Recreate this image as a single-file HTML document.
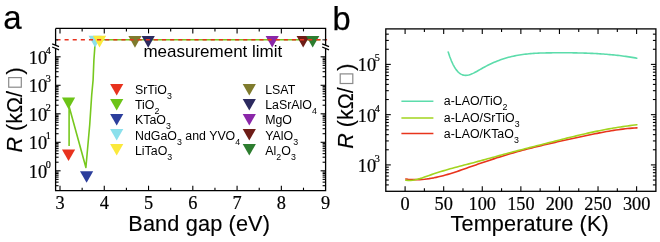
<!DOCTYPE html>
<html><head><meta charset="utf-8"><style>html,body{margin:0;padding:0;background:#fff;}svg{display:block;will-change:transform;}</style></head>
<body>
<svg width="660" height="242" viewBox="0 0 660 242">
<rect width="660" height="242" fill="#fff"/>
<polyline points="69.1,146 69.1,106.5 85.9,167.5 89.7,125 91.7,95 93.1,80 93.9,60 94.9,46.3 96,39.8 320.5,39.8" fill="none" stroke="#77c81e" stroke-width="1.6" stroke-linejoin="round"/>
<polygon points="61.95,149.50 75.15,149.50 68.55,161.10" fill="#e8321e"/>
<polygon points="61.95,97.60 75.15,97.60 68.55,109.20" fill="#6cc417"/>
<polygon points="80.00,171.20 93.20,171.20 86.60,182.80" fill="#2c3e9c"/>
<polygon points="88.52,35.80 101.72,35.80 95.12,47.40" fill="#8be0ec"/>
<polygon points="92.94,35.80 106.14,35.80 99.54,47.40" fill="#fbe93c"/>
<polygon points="128.36,36.10 141.56,36.10 134.96,47.70" fill="#7f7b2d"/>
<polygon points="141.64,36.10 154.84,36.10 148.24,47.70" fill="#2c2a5f"/>
<polygon points="265.60,36.00 278.80,36.00 272.20,47.60" fill="#8a26a8"/>
<polygon points="296.58,36.00 309.79,36.00 303.19,47.60" fill="#6e1d17"/>
<polygon points="306.10,36.00 319.30,36.00 312.70,47.60" fill="#2d7d2f"/>
<line x1="55.60" y1="39.8" x2="327.10" y2="39.8" stroke="#e8321e" stroke-width="1.6" stroke-dasharray="4.1 4.02" stroke-dashoffset="7.28"/>
<line x1="55.60" y1="39.80" x2="58.20" y2="39.80" stroke="#333" stroke-width="1.4" />
<line x1="325.60" y1="39.80" x2="322.40" y2="39.80" stroke="#555" stroke-width="1.4" />
<path d="M55.6,28.4 H325.6 V45.3 M325.6,48.4 V190.7 H55.6 V48.4 M55.6,45.3 V28.4" fill="none" stroke="#000" stroke-width="1.3"/>
<line x1="52.20" y1="43.90" x2="59.00" y2="46.70" stroke="#000" stroke-width="1.25" />
<line x1="52.20" y1="47.00" x2="59.00" y2="49.80" stroke="#000" stroke-width="1.25" />
<line x1="322.20" y1="43.90" x2="329.00" y2="46.70" stroke="#000" stroke-width="1.25" />
<line x1="322.20" y1="47.00" x2="329.00" y2="49.80" stroke="#000" stroke-width="1.25" />
<line x1="60.00" y1="190.70" x2="60.00" y2="185.70" stroke="#000" stroke-width="1.1" />
<line x1="60.00" y1="28.40" x2="60.00" y2="33.40" stroke="#000" stroke-width="1.1" />
<line x1="82.14" y1="190.70" x2="82.14" y2="187.70" stroke="#000" stroke-width="1.1" />
<line x1="82.14" y1="28.40" x2="82.14" y2="31.40" stroke="#000" stroke-width="1.1" />
<line x1="104.27" y1="190.70" x2="104.27" y2="185.70" stroke="#000" stroke-width="1.1" />
<line x1="104.27" y1="28.40" x2="104.27" y2="33.40" stroke="#000" stroke-width="1.1" />
<line x1="126.41" y1="190.70" x2="126.41" y2="187.70" stroke="#000" stroke-width="1.1" />
<line x1="126.41" y1="28.40" x2="126.41" y2="31.40" stroke="#000" stroke-width="1.1" />
<line x1="148.54" y1="190.70" x2="148.54" y2="185.70" stroke="#000" stroke-width="1.1" />
<line x1="148.54" y1="28.40" x2="148.54" y2="33.40" stroke="#000" stroke-width="1.1" />
<line x1="170.68" y1="190.70" x2="170.68" y2="187.70" stroke="#000" stroke-width="1.1" />
<line x1="170.68" y1="28.40" x2="170.68" y2="31.40" stroke="#000" stroke-width="1.1" />
<line x1="192.81" y1="190.70" x2="192.81" y2="185.70" stroke="#000" stroke-width="1.1" />
<line x1="192.81" y1="28.40" x2="192.81" y2="33.40" stroke="#000" stroke-width="1.1" />
<line x1="214.95" y1="190.70" x2="214.95" y2="187.70" stroke="#000" stroke-width="1.1" />
<line x1="214.95" y1="28.40" x2="214.95" y2="31.40" stroke="#000" stroke-width="1.1" />
<line x1="237.08" y1="190.70" x2="237.08" y2="185.70" stroke="#000" stroke-width="1.1" />
<line x1="237.08" y1="28.40" x2="237.08" y2="33.40" stroke="#000" stroke-width="1.1" />
<line x1="259.22" y1="190.70" x2="259.22" y2="187.70" stroke="#000" stroke-width="1.1" />
<line x1="259.22" y1="28.40" x2="259.22" y2="31.40" stroke="#000" stroke-width="1.1" />
<line x1="281.35" y1="190.70" x2="281.35" y2="185.70" stroke="#000" stroke-width="1.1" />
<line x1="281.35" y1="28.40" x2="281.35" y2="33.40" stroke="#000" stroke-width="1.1" />
<line x1="303.49" y1="190.70" x2="303.49" y2="187.70" stroke="#000" stroke-width="1.1" />
<line x1="303.49" y1="28.40" x2="303.49" y2="31.40" stroke="#000" stroke-width="1.1" />
<line x1="55.60" y1="185.70" x2="58.60" y2="185.70" stroke="#000" stroke-width="1.1" />
<line x1="325.60" y1="185.70" x2="322.60" y2="185.70" stroke="#000" stroke-width="1.1" />
<line x1="55.60" y1="182.14" x2="58.60" y2="182.14" stroke="#000" stroke-width="1.1" />
<line x1="325.60" y1="182.14" x2="322.60" y2="182.14" stroke="#000" stroke-width="1.1" />
<line x1="55.60" y1="179.38" x2="58.60" y2="179.38" stroke="#000" stroke-width="1.1" />
<line x1="325.60" y1="179.38" x2="322.60" y2="179.38" stroke="#000" stroke-width="1.1" />
<line x1="55.60" y1="177.12" x2="58.60" y2="177.12" stroke="#000" stroke-width="1.1" />
<line x1="325.60" y1="177.12" x2="322.60" y2="177.12" stroke="#000" stroke-width="1.1" />
<line x1="55.60" y1="175.21" x2="58.60" y2="175.21" stroke="#000" stroke-width="1.1" />
<line x1="325.60" y1="175.21" x2="322.60" y2="175.21" stroke="#000" stroke-width="1.1" />
<line x1="55.60" y1="173.56" x2="58.60" y2="173.56" stroke="#000" stroke-width="1.1" />
<line x1="325.60" y1="173.56" x2="322.60" y2="173.56" stroke="#000" stroke-width="1.1" />
<line x1="55.60" y1="172.10" x2="58.60" y2="172.10" stroke="#000" stroke-width="1.1" />
<line x1="325.60" y1="172.10" x2="322.60" y2="172.10" stroke="#000" stroke-width="1.1" />
<line x1="55.60" y1="170.80" x2="60.60" y2="170.80" stroke="#000" stroke-width="1.1" />
<line x1="325.60" y1="170.80" x2="320.60" y2="170.80" stroke="#000" stroke-width="1.1" />
<line x1="55.60" y1="162.22" x2="58.60" y2="162.22" stroke="#000" stroke-width="1.1" />
<line x1="325.60" y1="162.22" x2="322.60" y2="162.22" stroke="#000" stroke-width="1.1" />
<line x1="55.60" y1="157.20" x2="58.60" y2="157.20" stroke="#000" stroke-width="1.1" />
<line x1="325.60" y1="157.20" x2="322.60" y2="157.20" stroke="#000" stroke-width="1.1" />
<line x1="55.60" y1="153.64" x2="58.60" y2="153.64" stroke="#000" stroke-width="1.1" />
<line x1="325.60" y1="153.64" x2="322.60" y2="153.64" stroke="#000" stroke-width="1.1" />
<line x1="55.60" y1="150.88" x2="58.60" y2="150.88" stroke="#000" stroke-width="1.1" />
<line x1="325.60" y1="150.88" x2="322.60" y2="150.88" stroke="#000" stroke-width="1.1" />
<line x1="55.60" y1="148.62" x2="58.60" y2="148.62" stroke="#000" stroke-width="1.1" />
<line x1="325.60" y1="148.62" x2="322.60" y2="148.62" stroke="#000" stroke-width="1.1" />
<line x1="55.60" y1="146.71" x2="58.60" y2="146.71" stroke="#000" stroke-width="1.1" />
<line x1="325.60" y1="146.71" x2="322.60" y2="146.71" stroke="#000" stroke-width="1.1" />
<line x1="55.60" y1="145.06" x2="58.60" y2="145.06" stroke="#000" stroke-width="1.1" />
<line x1="325.60" y1="145.06" x2="322.60" y2="145.06" stroke="#000" stroke-width="1.1" />
<line x1="55.60" y1="143.60" x2="58.60" y2="143.60" stroke="#000" stroke-width="1.1" />
<line x1="325.60" y1="143.60" x2="322.60" y2="143.60" stroke="#000" stroke-width="1.1" />
<line x1="55.60" y1="142.30" x2="60.60" y2="142.30" stroke="#000" stroke-width="1.1" />
<line x1="325.60" y1="142.30" x2="320.60" y2="142.30" stroke="#000" stroke-width="1.1" />
<line x1="55.60" y1="133.72" x2="58.60" y2="133.72" stroke="#000" stroke-width="1.1" />
<line x1="325.60" y1="133.72" x2="322.60" y2="133.72" stroke="#000" stroke-width="1.1" />
<line x1="55.60" y1="128.70" x2="58.60" y2="128.70" stroke="#000" stroke-width="1.1" />
<line x1="325.60" y1="128.70" x2="322.60" y2="128.70" stroke="#000" stroke-width="1.1" />
<line x1="55.60" y1="125.14" x2="58.60" y2="125.14" stroke="#000" stroke-width="1.1" />
<line x1="325.60" y1="125.14" x2="322.60" y2="125.14" stroke="#000" stroke-width="1.1" />
<line x1="55.60" y1="122.38" x2="58.60" y2="122.38" stroke="#000" stroke-width="1.1" />
<line x1="325.60" y1="122.38" x2="322.60" y2="122.38" stroke="#000" stroke-width="1.1" />
<line x1="55.60" y1="120.12" x2="58.60" y2="120.12" stroke="#000" stroke-width="1.1" />
<line x1="325.60" y1="120.12" x2="322.60" y2="120.12" stroke="#000" stroke-width="1.1" />
<line x1="55.60" y1="118.21" x2="58.60" y2="118.21" stroke="#000" stroke-width="1.1" />
<line x1="325.60" y1="118.21" x2="322.60" y2="118.21" stroke="#000" stroke-width="1.1" />
<line x1="55.60" y1="116.56" x2="58.60" y2="116.56" stroke="#000" stroke-width="1.1" />
<line x1="325.60" y1="116.56" x2="322.60" y2="116.56" stroke="#000" stroke-width="1.1" />
<line x1="55.60" y1="115.10" x2="58.60" y2="115.10" stroke="#000" stroke-width="1.1" />
<line x1="325.60" y1="115.10" x2="322.60" y2="115.10" stroke="#000" stroke-width="1.1" />
<line x1="55.60" y1="113.80" x2="60.60" y2="113.80" stroke="#000" stroke-width="1.1" />
<line x1="325.60" y1="113.80" x2="320.60" y2="113.80" stroke="#000" stroke-width="1.1" />
<line x1="55.60" y1="105.22" x2="58.60" y2="105.22" stroke="#000" stroke-width="1.1" />
<line x1="325.60" y1="105.22" x2="322.60" y2="105.22" stroke="#000" stroke-width="1.1" />
<line x1="55.60" y1="100.20" x2="58.60" y2="100.20" stroke="#000" stroke-width="1.1" />
<line x1="325.60" y1="100.20" x2="322.60" y2="100.20" stroke="#000" stroke-width="1.1" />
<line x1="55.60" y1="96.64" x2="58.60" y2="96.64" stroke="#000" stroke-width="1.1" />
<line x1="325.60" y1="96.64" x2="322.60" y2="96.64" stroke="#000" stroke-width="1.1" />
<line x1="55.60" y1="93.88" x2="58.60" y2="93.88" stroke="#000" stroke-width="1.1" />
<line x1="325.60" y1="93.88" x2="322.60" y2="93.88" stroke="#000" stroke-width="1.1" />
<line x1="55.60" y1="91.62" x2="58.60" y2="91.62" stroke="#000" stroke-width="1.1" />
<line x1="325.60" y1="91.62" x2="322.60" y2="91.62" stroke="#000" stroke-width="1.1" />
<line x1="55.60" y1="89.71" x2="58.60" y2="89.71" stroke="#000" stroke-width="1.1" />
<line x1="325.60" y1="89.71" x2="322.60" y2="89.71" stroke="#000" stroke-width="1.1" />
<line x1="55.60" y1="88.06" x2="58.60" y2="88.06" stroke="#000" stroke-width="1.1" />
<line x1="325.60" y1="88.06" x2="322.60" y2="88.06" stroke="#000" stroke-width="1.1" />
<line x1="55.60" y1="86.60" x2="58.60" y2="86.60" stroke="#000" stroke-width="1.1" />
<line x1="325.60" y1="86.60" x2="322.60" y2="86.60" stroke="#000" stroke-width="1.1" />
<line x1="55.60" y1="85.30" x2="60.60" y2="85.30" stroke="#000" stroke-width="1.1" />
<line x1="325.60" y1="85.30" x2="320.60" y2="85.30" stroke="#000" stroke-width="1.1" />
<line x1="55.60" y1="76.72" x2="58.60" y2="76.72" stroke="#000" stroke-width="1.1" />
<line x1="325.60" y1="76.72" x2="322.60" y2="76.72" stroke="#000" stroke-width="1.1" />
<line x1="55.60" y1="71.70" x2="58.60" y2="71.70" stroke="#000" stroke-width="1.1" />
<line x1="325.60" y1="71.70" x2="322.60" y2="71.70" stroke="#000" stroke-width="1.1" />
<line x1="55.60" y1="68.14" x2="58.60" y2="68.14" stroke="#000" stroke-width="1.1" />
<line x1="325.60" y1="68.14" x2="322.60" y2="68.14" stroke="#000" stroke-width="1.1" />
<line x1="55.60" y1="65.38" x2="58.60" y2="65.38" stroke="#000" stroke-width="1.1" />
<line x1="325.60" y1="65.38" x2="322.60" y2="65.38" stroke="#000" stroke-width="1.1" />
<line x1="55.60" y1="63.12" x2="58.60" y2="63.12" stroke="#000" stroke-width="1.1" />
<line x1="325.60" y1="63.12" x2="322.60" y2="63.12" stroke="#000" stroke-width="1.1" />
<line x1="55.60" y1="61.21" x2="58.60" y2="61.21" stroke="#000" stroke-width="1.1" />
<line x1="325.60" y1="61.21" x2="322.60" y2="61.21" stroke="#000" stroke-width="1.1" />
<line x1="55.60" y1="59.56" x2="58.60" y2="59.56" stroke="#000" stroke-width="1.1" />
<line x1="325.60" y1="59.56" x2="322.60" y2="59.56" stroke="#000" stroke-width="1.1" />
<line x1="55.60" y1="58.10" x2="58.60" y2="58.10" stroke="#000" stroke-width="1.1" />
<line x1="325.60" y1="58.10" x2="322.60" y2="58.10" stroke="#000" stroke-width="1.1" />
<line x1="55.60" y1="56.80" x2="60.60" y2="56.80" stroke="#000" stroke-width="1.1" />
<line x1="325.60" y1="56.80" x2="320.60" y2="56.80" stroke="#000" stroke-width="1.1" />
<rect x="385.8" y="28.9" width="270.10" height="162.40" fill="none" stroke="#000" stroke-width="1.3"/>
<line x1="405.10" y1="191.30" x2="405.10" y2="186.30" stroke="#000" stroke-width="1.1" />
<line x1="405.10" y1="28.90" x2="405.10" y2="33.90" stroke="#000" stroke-width="1.1" />
<line x1="424.39" y1="191.30" x2="424.39" y2="188.30" stroke="#000" stroke-width="1.1" />
<line x1="424.39" y1="28.90" x2="424.39" y2="31.90" stroke="#000" stroke-width="1.1" />
<line x1="443.69" y1="191.30" x2="443.69" y2="186.30" stroke="#000" stroke-width="1.1" />
<line x1="443.69" y1="28.90" x2="443.69" y2="33.90" stroke="#000" stroke-width="1.1" />
<line x1="462.98" y1="191.30" x2="462.98" y2="188.30" stroke="#000" stroke-width="1.1" />
<line x1="462.98" y1="28.90" x2="462.98" y2="31.90" stroke="#000" stroke-width="1.1" />
<line x1="482.27" y1="191.30" x2="482.27" y2="186.30" stroke="#000" stroke-width="1.1" />
<line x1="482.27" y1="28.90" x2="482.27" y2="33.90" stroke="#000" stroke-width="1.1" />
<line x1="501.56" y1="191.30" x2="501.56" y2="188.30" stroke="#000" stroke-width="1.1" />
<line x1="501.56" y1="28.90" x2="501.56" y2="31.90" stroke="#000" stroke-width="1.1" />
<line x1="520.86" y1="191.30" x2="520.86" y2="186.30" stroke="#000" stroke-width="1.1" />
<line x1="520.86" y1="28.90" x2="520.86" y2="33.90" stroke="#000" stroke-width="1.1" />
<line x1="540.15" y1="191.30" x2="540.15" y2="188.30" stroke="#000" stroke-width="1.1" />
<line x1="540.15" y1="28.90" x2="540.15" y2="31.90" stroke="#000" stroke-width="1.1" />
<line x1="559.44" y1="191.30" x2="559.44" y2="186.30" stroke="#000" stroke-width="1.1" />
<line x1="559.44" y1="28.90" x2="559.44" y2="33.90" stroke="#000" stroke-width="1.1" />
<line x1="578.73" y1="191.30" x2="578.73" y2="188.30" stroke="#000" stroke-width="1.1" />
<line x1="578.73" y1="28.90" x2="578.73" y2="31.90" stroke="#000" stroke-width="1.1" />
<line x1="598.03" y1="191.30" x2="598.03" y2="186.30" stroke="#000" stroke-width="1.1" />
<line x1="598.03" y1="28.90" x2="598.03" y2="33.90" stroke="#000" stroke-width="1.1" />
<line x1="617.32" y1="191.30" x2="617.32" y2="188.30" stroke="#000" stroke-width="1.1" />
<line x1="617.32" y1="28.90" x2="617.32" y2="31.90" stroke="#000" stroke-width="1.1" />
<line x1="636.61" y1="191.30" x2="636.61" y2="186.30" stroke="#000" stroke-width="1.1" />
<line x1="636.61" y1="28.90" x2="636.61" y2="33.90" stroke="#000" stroke-width="1.1" />
<line x1="385.80" y1="184.90" x2="388.80" y2="184.90" stroke="#000" stroke-width="1.1" />
<line x1="655.90" y1="184.90" x2="652.90" y2="184.90" stroke="#000" stroke-width="1.1" />
<line x1="385.80" y1="180.03" x2="388.80" y2="180.03" stroke="#000" stroke-width="1.1" />
<line x1="655.90" y1="180.03" x2="652.90" y2="180.03" stroke="#000" stroke-width="1.1" />
<line x1="385.80" y1="176.05" x2="388.80" y2="176.05" stroke="#000" stroke-width="1.1" />
<line x1="655.90" y1="176.05" x2="652.90" y2="176.05" stroke="#000" stroke-width="1.1" />
<line x1="385.80" y1="172.68" x2="388.80" y2="172.68" stroke="#000" stroke-width="1.1" />
<line x1="655.90" y1="172.68" x2="652.90" y2="172.68" stroke="#000" stroke-width="1.1" />
<line x1="385.80" y1="169.77" x2="388.80" y2="169.77" stroke="#000" stroke-width="1.1" />
<line x1="655.90" y1="169.77" x2="652.90" y2="169.77" stroke="#000" stroke-width="1.1" />
<line x1="385.80" y1="167.20" x2="388.80" y2="167.20" stroke="#000" stroke-width="1.1" />
<line x1="655.90" y1="167.20" x2="652.90" y2="167.20" stroke="#000" stroke-width="1.1" />
<line x1="385.80" y1="164.90" x2="390.80" y2="164.90" stroke="#000" stroke-width="1.1" />
<line x1="655.90" y1="164.90" x2="650.90" y2="164.90" stroke="#000" stroke-width="1.1" />
<line x1="385.80" y1="149.77" x2="388.80" y2="149.77" stroke="#000" stroke-width="1.1" />
<line x1="655.90" y1="149.77" x2="652.90" y2="149.77" stroke="#000" stroke-width="1.1" />
<line x1="385.80" y1="140.92" x2="388.80" y2="140.92" stroke="#000" stroke-width="1.1" />
<line x1="655.90" y1="140.92" x2="652.90" y2="140.92" stroke="#000" stroke-width="1.1" />
<line x1="385.80" y1="134.65" x2="388.80" y2="134.65" stroke="#000" stroke-width="1.1" />
<line x1="655.90" y1="134.65" x2="652.90" y2="134.65" stroke="#000" stroke-width="1.1" />
<line x1="385.80" y1="129.78" x2="388.80" y2="129.78" stroke="#000" stroke-width="1.1" />
<line x1="655.90" y1="129.78" x2="652.90" y2="129.78" stroke="#000" stroke-width="1.1" />
<line x1="385.80" y1="125.80" x2="388.80" y2="125.80" stroke="#000" stroke-width="1.1" />
<line x1="655.90" y1="125.80" x2="652.90" y2="125.80" stroke="#000" stroke-width="1.1" />
<line x1="385.80" y1="122.43" x2="388.80" y2="122.43" stroke="#000" stroke-width="1.1" />
<line x1="655.90" y1="122.43" x2="652.90" y2="122.43" stroke="#000" stroke-width="1.1" />
<line x1="385.80" y1="119.52" x2="388.80" y2="119.52" stroke="#000" stroke-width="1.1" />
<line x1="655.90" y1="119.52" x2="652.90" y2="119.52" stroke="#000" stroke-width="1.1" />
<line x1="385.80" y1="116.95" x2="388.80" y2="116.95" stroke="#000" stroke-width="1.1" />
<line x1="655.90" y1="116.95" x2="652.90" y2="116.95" stroke="#000" stroke-width="1.1" />
<line x1="385.80" y1="114.65" x2="390.80" y2="114.65" stroke="#000" stroke-width="1.1" />
<line x1="655.90" y1="114.65" x2="650.90" y2="114.65" stroke="#000" stroke-width="1.1" />
<line x1="385.80" y1="99.52" x2="388.80" y2="99.52" stroke="#000" stroke-width="1.1" />
<line x1="655.90" y1="99.52" x2="652.90" y2="99.52" stroke="#000" stroke-width="1.1" />
<line x1="385.80" y1="90.67" x2="388.80" y2="90.67" stroke="#000" stroke-width="1.1" />
<line x1="655.90" y1="90.67" x2="652.90" y2="90.67" stroke="#000" stroke-width="1.1" />
<line x1="385.80" y1="84.40" x2="388.80" y2="84.40" stroke="#000" stroke-width="1.1" />
<line x1="655.90" y1="84.40" x2="652.90" y2="84.40" stroke="#000" stroke-width="1.1" />
<line x1="385.80" y1="79.53" x2="388.80" y2="79.53" stroke="#000" stroke-width="1.1" />
<line x1="655.90" y1="79.53" x2="652.90" y2="79.53" stroke="#000" stroke-width="1.1" />
<line x1="385.80" y1="75.55" x2="388.80" y2="75.55" stroke="#000" stroke-width="1.1" />
<line x1="655.90" y1="75.55" x2="652.90" y2="75.55" stroke="#000" stroke-width="1.1" />
<line x1="385.80" y1="72.18" x2="388.80" y2="72.18" stroke="#000" stroke-width="1.1" />
<line x1="655.90" y1="72.18" x2="652.90" y2="72.18" stroke="#000" stroke-width="1.1" />
<line x1="385.80" y1="69.27" x2="388.80" y2="69.27" stroke="#000" stroke-width="1.1" />
<line x1="655.90" y1="69.27" x2="652.90" y2="69.27" stroke="#000" stroke-width="1.1" />
<line x1="385.80" y1="66.70" x2="388.80" y2="66.70" stroke="#000" stroke-width="1.1" />
<line x1="655.90" y1="66.70" x2="652.90" y2="66.70" stroke="#000" stroke-width="1.1" />
<line x1="385.80" y1="64.40" x2="390.80" y2="64.40" stroke="#000" stroke-width="1.1" />
<line x1="655.90" y1="64.40" x2="650.90" y2="64.40" stroke="#000" stroke-width="1.1" />
<line x1="385.80" y1="49.27" x2="388.80" y2="49.27" stroke="#000" stroke-width="1.1" />
<line x1="655.90" y1="49.27" x2="652.90" y2="49.27" stroke="#000" stroke-width="1.1" />
<line x1="385.80" y1="40.42" x2="388.80" y2="40.42" stroke="#000" stroke-width="1.1" />
<line x1="655.90" y1="40.42" x2="652.90" y2="40.42" stroke="#000" stroke-width="1.1" />
<line x1="385.80" y1="34.15" x2="388.80" y2="34.15" stroke="#000" stroke-width="1.1" />
<line x1="655.90" y1="34.15" x2="652.90" y2="34.15" stroke="#000" stroke-width="1.1" />
<polyline points="448.20,52.00 449.78,56.71 451.37,60.80 452.95,64.28 454.54,67.21 456.12,69.62 457.71,71.55 459.29,73.04 460.88,74.13 462.46,74.86 464.05,75.27 465.63,75.40 467.22,75.28 468.80,74.97 470.39,74.48 471.97,73.86 473.56,73.14 475.14,72.32 476.73,71.45 478.31,70.54 479.90,69.61 481.48,68.70 483.07,67.82 484.65,66.95 486.24,66.11 487.82,65.30 489.41,64.51 490.99,63.75 492.58,63.02 494.16,62.31 495.75,61.64 497.33,61.00 498.92,60.38 500.50,59.80 502.09,59.25 503.67,58.73 505.26,58.24 506.84,57.78 508.43,57.34 510.01,56.93 511.59,56.55 513.18,56.19 514.76,55.86 516.35,55.54 517.93,55.26 519.52,54.99 521.10,54.74 522.69,54.51 524.27,54.31 525.86,54.12 527.44,53.94 529.03,53.79 530.61,53.65 532.20,53.52 533.78,53.41 535.37,53.31 536.95,53.22 538.54,53.14 540.12,53.07 541.71,53.02 543.29,52.97 544.88,52.93 546.46,52.90 548.05,52.87 549.63,52.85 551.22,52.83 552.80,52.81 554.39,52.80 555.97,52.79 557.56,52.78 559.14,52.78 560.73,52.77 562.31,52.77 563.90,52.77 565.48,52.78 567.07,52.79 568.65,52.80 570.24,52.81 571.82,52.82 573.41,52.84 574.99,52.87 576.57,52.89 578.16,52.93 579.74,52.96 581.33,53.00 582.91,53.04 584.50,53.09 586.08,53.14 587.67,53.20 589.25,53.26 590.84,53.33 592.42,53.40 594.01,53.48 595.59,53.56 597.18,53.65 598.76,53.75 600.35,53.85 601.93,53.96 603.52,54.07 605.10,54.19 606.69,54.32 608.27,54.45 609.86,54.59 611.44,54.74 613.03,54.89 614.61,55.05 616.20,55.22 617.78,55.40 619.37,55.58 620.95,55.78 622.54,55.98 624.12,56.19 625.71,56.40 627.29,56.63 628.88,56.86 630.46,57.11 632.05,57.36 633.63,57.62 635.22,57.89 636.80,58.17" fill="none" stroke="#5cdcab" stroke-width="1.6" stroke-linejoin="round" stroke-linecap="round"/>
<polyline points="405.80,178.99 408.13,179.27 410.47,179.48 412.80,179.61 415.14,179.67 417.47,179.66 419.81,179.58 422.14,179.44 424.47,179.23 426.81,178.96 429.14,178.64 431.48,178.26 433.81,177.84 436.15,177.36 438.48,176.84 440.82,176.28 443.15,175.68 445.48,175.04 447.82,174.37 450.15,173.67 452.49,172.94 454.82,172.19 457.16,171.42 459.49,170.63 461.82,169.83 464.16,169.02 466.49,168.20 468.83,167.37 471.16,166.55 473.50,165.73 475.83,164.91 478.16,164.10 480.50,163.30 482.83,162.50 485.17,161.71 487.50,160.92 489.84,160.14 492.17,159.38 494.51,158.62 496.84,157.86 499.17,157.12 501.51,156.39 503.84,155.67 506.18,154.96 508.51,154.26 510.85,153.58 513.18,152.90 515.51,152.24 517.85,151.59 520.18,150.95 522.52,150.32 524.85,149.70 527.19,149.09 529.52,148.48 531.85,147.89 534.19,147.31 536.52,146.73 538.86,146.16 541.19,145.60 543.53,145.05 545.86,144.50 548.19,143.96 550.53,143.42 552.86,142.89 555.20,142.36 557.53,141.84 559.87,141.32 562.20,140.81 564.54,140.30 566.87,139.79 569.20,139.28 571.54,138.78 573.87,138.28 576.21,137.77 578.54,137.27 580.88,136.77 583.21,136.27 585.54,135.77 587.88,135.28 590.21,134.79 592.55,134.30 594.88,133.82 597.22,133.35 599.55,132.89 601.88,132.44 604.22,132.00 606.55,131.58 608.89,131.17 611.22,130.78 613.56,130.40 615.89,130.04 618.23,129.70 620.56,129.38 622.89,129.09 625.23,128.81 627.56,128.57 629.90,128.35 632.23,128.15 634.57,127.99 636.90,127.85" fill="none" stroke="#e8341c" stroke-width="1.6" stroke-linejoin="round" stroke-linecap="round"/>
<polyline points="405.80,180.28 408.13,180.48 410.47,180.44 412.80,180.22 415.14,179.82 417.47,179.28 419.81,178.63 422.14,177.89 424.47,177.10 426.81,176.27 429.14,175.44 431.48,174.63 433.81,173.84 436.15,173.07 438.48,172.32 440.82,171.59 443.15,170.88 445.48,170.19 447.82,169.51 450.15,168.85 452.49,168.21 454.82,167.57 457.16,166.94 459.49,166.33 461.82,165.71 464.16,165.10 466.49,164.49 468.83,163.88 471.16,163.27 473.50,162.65 475.83,162.02 478.16,161.39 480.50,160.76 482.83,160.12 485.17,159.48 487.50,158.84 489.84,158.19 492.17,157.55 494.51,156.90 496.84,156.26 499.17,155.62 501.51,154.97 503.84,154.34 506.18,153.70 508.51,153.07 510.85,152.45 513.18,151.83 515.51,151.22 517.85,150.61 520.18,150.00 522.52,149.40 524.85,148.80 527.19,148.20 529.52,147.61 531.85,147.02 534.19,146.43 536.52,145.84 538.86,145.25 541.19,144.66 543.53,144.07 545.86,143.48 548.19,142.89 550.53,142.30 552.86,141.71 555.20,141.11 557.53,140.52 559.87,139.92 562.20,139.33 564.54,138.74 566.87,138.15 569.20,137.57 571.54,136.99 573.87,136.41 576.21,135.85 578.54,135.29 580.88,134.74 583.21,134.19 585.54,133.66 587.88,133.14 590.21,132.63 592.55,132.12 594.88,131.63 597.22,131.15 599.55,130.68 601.88,130.22 604.22,129.77 606.55,129.33 608.89,128.90 611.22,128.49 613.56,128.08 615.89,127.69 618.23,127.32 620.56,126.95 622.89,126.60 625.23,126.26 627.56,125.93 629.90,125.62 632.23,125.32 634.57,125.04 636.90,124.77" fill="none" stroke="#a2d41e" stroke-width="1.6" stroke-linejoin="round" stroke-linecap="round"/>
<text x="3.3" y="29.4" font-family="'Liberation Sans', sans-serif" font-size="33" stroke="#000" stroke-width="0.2">a</text>
<text x="332.5" y="29.6" font-family="'Liberation Sans', sans-serif" font-size="32.6" stroke="#000" stroke-width="0.25">b</text>
<text transform="translate(47.10,177.80) scale(0.965,1)" font-family="'Liberation Serif', serif" stroke="#000" stroke-width="0.2" font-size="19" text-anchor="end">10</text>
<text x="45.70" y="167.80" font-family="'Liberation Serif', serif" stroke="#000" stroke-width="0.2" font-size="10.2">0</text>
<text transform="translate(47.10,149.30) scale(0.965,1)" font-family="'Liberation Serif', serif" stroke="#000" stroke-width="0.2" font-size="19" text-anchor="end">10</text>
<text x="45.70" y="139.30" font-family="'Liberation Serif', serif" stroke="#000" stroke-width="0.2" font-size="10.2">1</text>
<text transform="translate(47.10,120.80) scale(0.965,1)" font-family="'Liberation Serif', serif" stroke="#000" stroke-width="0.2" font-size="19" text-anchor="end">10</text>
<text x="45.70" y="110.80" font-family="'Liberation Serif', serif" stroke="#000" stroke-width="0.2" font-size="10.2">2</text>
<text transform="translate(47.10,92.30) scale(0.965,1)" font-family="'Liberation Serif', serif" stroke="#000" stroke-width="0.2" font-size="19" text-anchor="end">10</text>
<text x="45.70" y="82.30" font-family="'Liberation Serif', serif" stroke="#000" stroke-width="0.2" font-size="10.2">3</text>
<text transform="translate(47.10,63.80) scale(0.965,1)" font-family="'Liberation Serif', serif" stroke="#000" stroke-width="0.2" font-size="19" text-anchor="end">10</text>
<text x="45.70" y="53.80" font-family="'Liberation Serif', serif" stroke="#000" stroke-width="0.2" font-size="10.2">4</text>
<text transform="translate(376.10,171.90) scale(0.965,1)" font-family="'Liberation Serif', serif" stroke="#000" stroke-width="0.2" font-size="19" text-anchor="end">10</text>
<text x="374.70" y="161.90" font-family="'Liberation Serif', serif" stroke="#000" stroke-width="0.2" font-size="10.2">3</text>
<text transform="translate(376.10,121.65) scale(0.965,1)" font-family="'Liberation Serif', serif" stroke="#000" stroke-width="0.2" font-size="19" text-anchor="end">10</text>
<text x="374.70" y="111.65" font-family="'Liberation Serif', serif" stroke="#000" stroke-width="0.2" font-size="10.2">4</text>
<text transform="translate(376.10,71.40) scale(0.965,1)" font-family="'Liberation Serif', serif" stroke="#000" stroke-width="0.2" font-size="19" text-anchor="end">10</text>
<text x="374.70" y="61.40" font-family="'Liberation Serif', serif" stroke="#000" stroke-width="0.2" font-size="10.2">5</text>
<text transform="translate(60.00,209.4) scale(0.965,1)" font-family="'Liberation Serif', serif" stroke="#000" stroke-width="0.2" font-size="19" text-anchor="middle">3</text>
<text transform="translate(104.27,209.4) scale(0.965,1)" font-family="'Liberation Serif', serif" stroke="#000" stroke-width="0.2" font-size="19" text-anchor="middle">4</text>
<text transform="translate(148.54,209.4) scale(0.965,1)" font-family="'Liberation Serif', serif" stroke="#000" stroke-width="0.2" font-size="19" text-anchor="middle">5</text>
<text transform="translate(192.81,209.4) scale(0.965,1)" font-family="'Liberation Serif', serif" stroke="#000" stroke-width="0.2" font-size="19" text-anchor="middle">6</text>
<text transform="translate(237.08,209.4) scale(0.965,1)" font-family="'Liberation Serif', serif" stroke="#000" stroke-width="0.2" font-size="19" text-anchor="middle">7</text>
<text transform="translate(281.35,209.4) scale(0.965,1)" font-family="'Liberation Serif', serif" stroke="#000" stroke-width="0.2" font-size="19" text-anchor="middle">8</text>
<text transform="translate(325.62,209.4) scale(0.965,1)" font-family="'Liberation Serif', serif" stroke="#000" stroke-width="0.2" font-size="19" text-anchor="middle">9</text>
<text transform="translate(405.10,209.9) scale(0.965,1)" font-family="'Liberation Serif', serif" stroke="#000" stroke-width="0.2" font-size="19" text-anchor="middle">0</text>
<text transform="translate(443.69,209.9) scale(0.965,1)" font-family="'Liberation Serif', serif" stroke="#000" stroke-width="0.2" font-size="19" text-anchor="middle">50</text>
<text transform="translate(482.27,209.9) scale(0.965,1)" font-family="'Liberation Serif', serif" stroke="#000" stroke-width="0.2" font-size="19" text-anchor="middle">100</text>
<text transform="translate(520.86,209.9) scale(0.965,1)" font-family="'Liberation Serif', serif" stroke="#000" stroke-width="0.2" font-size="19" text-anchor="middle">150</text>
<text transform="translate(559.44,209.9) scale(0.965,1)" font-family="'Liberation Serif', serif" stroke="#000" stroke-width="0.2" font-size="19" text-anchor="middle">200</text>
<text transform="translate(598.03,209.9) scale(0.965,1)" font-family="'Liberation Serif', serif" stroke="#000" stroke-width="0.2" font-size="19" text-anchor="middle">250</text>
<text transform="translate(636.61,209.9) scale(0.965,1)" font-family="'Liberation Serif', serif" stroke="#000" stroke-width="0.2" font-size="19" text-anchor="middle">300</text>
<text x="128.3" y="231" font-family="'Liberation Sans', sans-serif" font-size="21.7" letter-spacing="0.15" stroke="#000" stroke-width="0.15">Band gap (eV)</text>
<text x="450.6" y="231" font-family="'Liberation Sans', sans-serif" font-size="21.7" letter-spacing="0.1" stroke="#000" stroke-width="0.15">Temperature (K)</text>
<g transform="translate(21.5,152.4) rotate(-90)"><text x="0" y="0" font-family="'Liberation Sans', sans-serif" font-size="21.5" stroke="#000" stroke-width="0.12"><tspan font-style="italic">R</tspan> (kΩ/</text><rect x="65.2" y="-12.8" width="9.6" height="12.6" fill="none" stroke="#8a8a8a" stroke-width="1.2"/><text x="78.0" y="0" font-family="'Liberation Sans', sans-serif" font-size="21.5" stroke="#000" stroke-width="0.12">)</text></g>
<g transform="translate(353,148.7) rotate(-90)"><text x="0" y="0" font-family="'Liberation Sans', sans-serif" font-size="21.5" stroke="#000" stroke-width="0.12"><tspan font-style="italic">R</tspan> (kΩ/</text><rect x="65.2" y="-12.8" width="9.6" height="12.6" fill="none" stroke="#8a8a8a" stroke-width="1.2"/><text x="78.0" y="0" font-family="'Liberation Sans', sans-serif" font-size="21.5" stroke="#000" stroke-width="0.12">)</text></g>
<text x="143.4" y="56.9" font-family="'Liberation Sans', sans-serif" font-size="17">measurement limit</text>
<polygon points="110.10,84.00 123.30,84.00 116.70,95.60" fill="#e8321e"/>
<text transform="translate(135.00,93.70) scale(1.03,1)" font-family="'Liberation Sans', sans-serif" font-size="12"><tspan font-size="12" dy="0">SrTiO</tspan><tspan font-size="8.6" dx="0.1" dy="5.0">3</tspan></text>
<polygon points="242.70,84.00 255.90,84.00 249.30,95.60" fill="#7f7b2d"/>
<text transform="translate(265.20,93.70) scale(1.03,1)" font-family="'Liberation Sans', sans-serif" font-size="12"><tspan font-size="12" dy="0">LSAT</tspan></text>
<polygon points="110.10,99.00 123.30,99.00 116.70,110.60" fill="#6cc417"/>
<text transform="translate(135.00,108.98) scale(1.03,1)" font-family="'Liberation Sans', sans-serif" font-size="12"><tspan font-size="12" dy="0">TiO</tspan><tspan font-size="8.6" dx="0.1" dy="5.0">2</tspan></text>
<polygon points="242.70,99.00 255.90,99.00 249.30,110.60" fill="#2c2a5f"/>
<text transform="translate(265.20,108.98) scale(1.03,1)" font-family="'Liberation Sans', sans-serif" font-size="12"><tspan font-size="12" dy="0">LaSrAlO</tspan><tspan font-size="8.6" dx="0.1" dy="5.0">4</tspan></text>
<polygon points="110.10,114.00 123.30,114.00 116.70,125.60" fill="#2c3e9c"/>
<text transform="translate(135.00,124.26) scale(1.03,1)" font-family="'Liberation Sans', sans-serif" font-size="12"><tspan font-size="12" dy="0">KTaO</tspan><tspan font-size="8.6" dx="0.1" dy="5.0">3</tspan></text>
<polygon points="242.70,114.00 255.90,114.00 249.30,125.60" fill="#8a26a8"/>
<text transform="translate(265.20,124.26) scale(1.03,1)" font-family="'Liberation Sans', sans-serif" font-size="12"><tspan font-size="12" dy="0">MgO</tspan></text>
<polygon points="110.10,129.00 123.30,129.00 116.70,140.60" fill="#8be0ec"/>
<text transform="translate(135.00,139.54) scale(1.03,1)" font-family="'Liberation Sans', sans-serif" font-size="12"><tspan font-size="12" dy="0">NdGaO</tspan><tspan font-size="8.6" dx="0.1" dy="5.0">3</tspan><tspan font-size="12" dy="-5.0"> and YVO</tspan><tspan font-size="8.6" dx="0.1" dy="5.0">4</tspan></text>
<polygon points="242.70,129.00 255.90,129.00 249.30,140.60" fill="#6e1d17"/>
<text transform="translate(265.20,139.54) scale(1.03,1)" font-family="'Liberation Sans', sans-serif" font-size="12"><tspan font-size="12" dy="0">YAlO</tspan><tspan font-size="8.6" dx="0.1" dy="5.0">3</tspan></text>
<polygon points="110.10,144.00 123.30,144.00 116.70,155.60" fill="#fbe93c"/>
<text transform="translate(135.00,154.82) scale(1.03,1)" font-family="'Liberation Sans', sans-serif" font-size="12"><tspan font-size="12" dy="0">LiTaO</tspan><tspan font-size="8.6" dx="0.1" dy="5.0">3</tspan></text>
<polygon points="242.70,144.00 255.90,144.00 249.30,155.60" fill="#2d7d2f"/>
<text transform="translate(265.20,154.82) scale(1.03,1)" font-family="'Liberation Sans', sans-serif" font-size="12"><tspan font-size="12" dy="0">Al</tspan><tspan font-size="8.6" dx="0.1" dy="5.0">2</tspan><tspan font-size="12" dy="-5.0">O</tspan><tspan font-size="8.6" dx="0.1" dy="5.0">3</tspan></text>
<line x1="401.40" y1="101.20" x2="433.40" y2="101.20" stroke="#5cdcab" stroke-width="1.6" />
<text transform="translate(443.80,104.80) scale(1.03,1)" font-family="'Liberation Sans', sans-serif" font-size="12"><tspan font-size="12" dy="0">a-LAO/TiO</tspan><tspan font-size="8.6" dx="0.1" dy="5.0">2</tspan></text>
<line x1="401.40" y1="118.00" x2="433.40" y2="118.00" stroke="#a2d41e" stroke-width="1.6" />
<text transform="translate(443.80,121.50) scale(1.03,1)" font-family="'Liberation Sans', sans-serif" font-size="12"><tspan font-size="12" dy="0">a-LAO/SrTiO</tspan><tspan font-size="8.6" dx="0.1" dy="5.0">3</tspan></text>
<line x1="401.40" y1="133.50" x2="433.40" y2="133.50" stroke="#e8341c" stroke-width="1.6" />
<text transform="translate(443.80,138.30) scale(1.03,1)" font-family="'Liberation Sans', sans-serif" font-size="12"><tspan font-size="12" dy="0">a-LAO/KTaO</tspan><tspan font-size="8.6" dx="0.1" dy="5.0">3</tspan></text>
</svg>
</body></html>
